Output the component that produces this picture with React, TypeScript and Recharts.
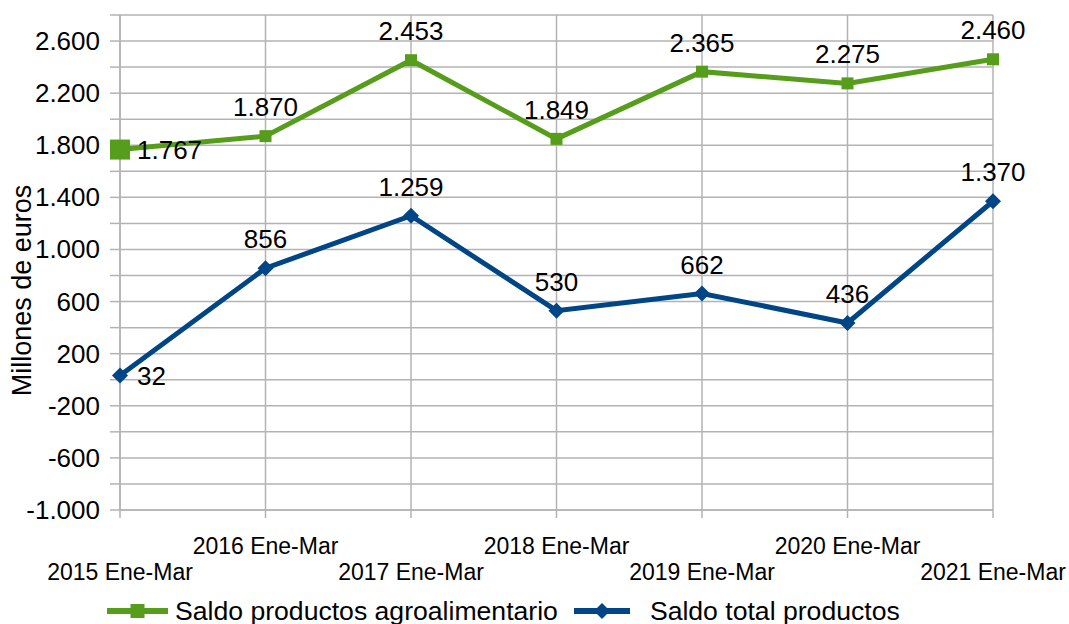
import { LineChart, Line, XAxis, YAxis, CartesianGrid, LabelList, Legend } from "recharts";

const periods = [
  "2015 Ene-Mar",
  "2016 Ene-Mar",
  "2017 Ene-Mar",
  "2018 Ene-Mar",
  "2019 Ene-Mar",
  "2020 Ene-Mar",
  "2021 Ene-Mar",
];
const agroBalance = [1767, 1870, 2453, 1849, 2365, 2275, 2460];
const totalBalance = [32, 856, 1259, 530, 662, 436, 1370];
const yTicks = [-1000, -800, -600, -400, -200, 0, 200, 400, 600, 800, 1000, 1200, 1400, 1600, 1800, 2000, 2200, 2400, 2600, 2800];
const yLabelTicks = [-1000, -600, -200, 200, 600, 1000, 1400, 1800, 2200, 2600];

const data = periods.map((period, i) => ({
  period,
  agro: agroBalance[i],
  total: totalBalance[i],
}));

const GREEN = "#579d1c";
const BLUE = "#004586";
const GRID = "#b3b3b3";
const FONT = "'Liberation Sans', Arial, sans-serif";

// 1.767 style: dot as thousands separator
const fmt = (v: number) => {
  const s = Math.abs(v).toString().replace(/\B(?=(\d{3})+(?!\d))/g, ".");
  return v < 0 ? "-" + s : s;
};

const SquareDot = (props: any) => {
  const { cx, cy, index } = props;
  const h = index === 0 ? 10 : 6;
  return <rect key={`sq-${index}`} x={cx - h} y={cy - h} width={h * 2} height={h * 2} fill={GREEN} />;
};

const DiamondDot = (props: any) => {
  const { cx, cy, index } = props;
  const h = 8;
  return (
    <polygon
      key={`dm-${index}`}
      points={`${cx},${cy - h} ${cx + h},${cy} ${cx},${cy + h} ${cx - h},${cy}`}
      fill={BLUE}
    />
  );
};

const pointLabel = (props: any) => {
  const { x, y, value, index } = props;
  if (index === 0) {
    return (
      <text x={x + 17} y={y + 9} fontSize={26} fontFamily={FONT} fill="#000" textAnchor="start">
        {fmt(value)}
      </text>
    );
  }
  return (
    <text x={x} y={y - 20} fontSize={26} fontFamily={FONT} fill="#000" textAnchor="middle">
      {fmt(value)}
    </text>
  );
};

const XTick = (props: any) => {
  const { x, y, payload, index } = props;
  const dy = index % 2 === 0 ? 59 : 33;
  return (
    <text x={x} y={y + 1 + dy} fontSize={23} fontFamily={FONT} fill="#000" textAnchor="middle">
      {payload.value}
    </text>
  );
};

const YTick = (props: any) => {
  const { x, y, payload } = props;
  if (!yLabelTicks.includes(payload.value)) return <g />;
  return (
    <text x={x - 8} y={y + 9} fontSize={26} fontFamily={FONT} fill="#000" textAnchor="end">
      {fmt(payload.value)}
    </text>
  );
};

const YTitle = (props: any) => {
  const { viewBox } = props;
  const cx = viewBox.x + 22;
  const cy = viewBox.y + viewBox.height / 2 + 28;
  return (
    <text
      x={cx}
      y={cy}
      transform={`rotate(-90, ${cx}, ${cy})`}
      fontSize={27}
      fontFamily={FONT}
      fill="#000"
      textAnchor="middle"
      dominantBaseline="central"
    >
      Millones de euros
    </text>
  );
};

const LegendIcon = ({ kind, color }: { kind: string; color: string }) => {
  const w = kind === "agro" ? 61 : 56;
  const c = w / 2;
  return (
    <svg width={w} height={20} style={{ display: "block" }}>
      <line x1={0} y1={10} x2={w} y2={10} stroke={color} strokeWidth={6} />
      {kind === "agro" ? (
        <rect x={c - 7} y={3} width={14} height={14} fill={color} />
      ) : (
        <polygon points={`${c},2 ${c + 8},10 ${c},18 ${c - 8},10`} fill={color} />
      )}
    </svg>
  );
};

const LegendContent = (props: any) => {
  const items = props.payload || [];
  return (
    <div style={{ display: "flex", alignItems: "center", fontFamily: FONT, fontSize: 26.6, color: "#000", whiteSpace: "nowrap" }}>
      {items.map((it: any, i: number) => (
        <div key={i} style={{ display: "flex", alignItems: "center", marginRight: i === 0 ? 16 : 0 }}>
          <LegendIcon kind={it.dataKey} color={it.color} />
          <span style={{ marginLeft: i === 0 ? 7 : 20, lineHeight: "30px" }}>{it.value}</span>
        </div>
      ))}
    </div>
  );
};

export default function App() {
  return (
    <div style={{ width: 1069, height: 624, background: "#fff" }}>
      <style>{"body{margin:0}"}</style>
      <LineChart width={1069} height={624} data={data} margin={{ top: 15, right: 76, left: 0, bottom: 24 }}>
        <CartesianGrid stroke={GRID} strokeWidth={1.5} vertical={true} horizontal={true} />
        <XAxis
          dataKey="period"
          interval={0}
          height={90}
          tickSize={8}
          tickLine={{ stroke: GRID, strokeWidth: 1.5 }}
          axisLine={{ stroke: GRID, strokeWidth: 1.5 }}
          tick={<XTick />}
        />
        <YAxis
          width={120}
          domain={[-1000, 2800]}
          ticks={yTicks}
          interval={0}
          tickSize={10}
          tickLine={{ stroke: GRID, strokeWidth: 1.5 }}
          axisLine={{ stroke: GRID, strokeWidth: 1.5 }}
          tick={<YTick />}
          label={<YTitle />}
        />
        <Legend
          layout="horizontal"
          verticalAlign="middle"
          align="center"
          wrapperStyle={{ top: 596, left: 107, width: "auto" }}
          content={<LegendContent />}
        />
        <Line
          type="linear"
          dataKey="agro"
          name="Saldo productos agroalimentario"
          stroke={GREEN}
          strokeWidth={5}
          dot={SquareDot}
          activeDot={false}
          isAnimationActive={false}
        >
          <LabelList dataKey="agro" content={pointLabel} />
        </Line>
        <Line
          type="linear"
          dataKey="total"
          name="Saldo total productos"
          stroke={BLUE}
          strokeWidth={5}
          dot={DiamondDot}
          activeDot={false}
          isAnimationActive={false}
        >
          <LabelList dataKey="total" content={pointLabel} />
        </Line>
      </LineChart>
    </div>
  );
}
